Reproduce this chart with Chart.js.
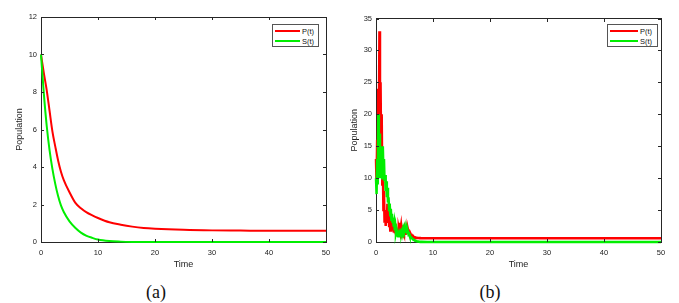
<!DOCTYPE html>
<html><head><meta charset="utf-8">
<script src="https://cdn.jsdelivr.net/npm/chart.js@4.4.1/dist/chart.umd.min.js"></script>
<style>
html,body{margin:0;padding:0;background:#fff;width:679px;height:303px;overflow:hidden;}
.wrap{position:absolute;top:0;}
canvas{display:block;}
.legend{position:absolute;background:#fff;border:1px solid #555;font:7.5px "Liberation Sans",Arial,sans-serif;color:#111;box-sizing:border-box;padding:1px 2px;}
.row{display:flex;align-items:center;height:10px;}
.sw{width:25px;height:2px;margin-right:2px;}
.cap{position:absolute;font:18px "Liberation Serif","Times New Roman",serif;color:#111;transform:translate(-50%,-50%);white-space:nowrap;}
</style></head><body>
<div class="wrap" style="left:0;width:340px;height:280px;"><canvas id="ca" width="340" height="280"></canvas></div>
<div class="wrap" style="left:340px;width:339px;height:280px;"><canvas id="cb" width="339" height="280"></canvas></div>
<div class="legend" style="left:272px;top:24px;width:47px;height:23px;">
  <div class="row"><div class="sw" style="background:#ff0000"></div><span>P(t)</span></div>
  <div class="row"><div class="sw" style="background:#00ee00"></div><span>S(t)</span></div>
</div>
<div class="legend" style="left:607px;top:24px;width:51px;height:23px;">
  <div class="row"><div class="sw" style="background:#ff0000;width:28px"></div><span>P(t)</span></div>
  <div class="row"><div class="sw" style="background:#00ee00;width:28px"></div><span>S(t)</span></div>
</div>
<div class="cap" style="left:156px;top:292px;">(a)</div>
<div class="cap" style="left:490px;top:292px;">(b)</div>
<script>
// ---- Panel (a): deterministic ----
const timeA = [0,0.5,1,1.5,2,2.5,3,3.5,4,5,6,7,8,9,10,12,14,16,18,20,25,30,35,40,45,50];
const pA    = [10,9.0,8.1,7.0,5.9,5.1,4.35,3.75,3.3,2.65,2.1,1.8,1.58,1.42,1.28,1.05,0.92,0.82,0.75,0.71,0.65,0.62,0.61,0.6,0.6,0.6];
const sA    = [10,7.9,6.2,4.9,3.9,3.1,2.45,1.95,1.6,1.1,0.76,0.5,0.33,0.22,0.13,0.05,0.02,0.005,0,0,0,0,0,0,0,0];
const xTicksA = [0,10,20,30,40,50];
const yTicksA = [0,2,4,6,8,10,12];

// ---- Panel (b): stochastic ----
const timeB = [0,0.1,0.2,0.3,0.4,0.5,0.6,0.7,0.8,0.9,1.0,1.1,1.2,1.3,1.4,1.5,1.6,1.7,1.8,1.9,
  2.0,2.1,2.2,2.3,2.4,2.5,2.6,2.7,2.8,2.9,3.0,3.1,3.2,3.3,3.4,3.5,3.6,3.7,3.8,3.9,
  4.0,4.1,4.2,4.3,4.4,4.5,4.6,4.7,4.8,4.9,5.0,5.1,5.2,5.3,5.4,5.5,5.6,5.7,5.8,5.9,
  6.0,6.1,6.2,6.3,6.4,6.5,6.6,6.7,6.8,6.9,7.0,7.1,7.2,7.3,7.4,7.5,7.6,7.7,7.8,7.9,
  8.0,9,10,20,30,40,50];
const pB = [13,9,16,12,24,18,33,22,25,14,20,9,12,5,8,3,5,2.5,4.5,3,
  6,3.5,5,2.5,4,1.8,3,2,3.5,1.8,2.6,1.5,2.2,1.4,2.0,1.2,1.8,1.3,2.0,1.5,
  2.2,1.8,3.0,2.0,2.6,1.6,1.9,1.4,1.6,1.3,1.5,1.3,1.7,1.5,1.9,1.6,2.0,1.6,1.5,1.3,
  1.1,1.2,1.0,0.9,0.95,0.8,0.85,0.75,0.7,0.72,0.68,0.66,0.65,0.64,0.63,0.62,0.62,0.61,0.61,0.6,
  0.6,0.6,0.6,0.6,0.6,0.6,0.6];
const sB = [10,7.5,13,9,20,12,17,10,15,11,14.5,10,15,11,13,9.5,10.5,8,9.5,7,
  8.5,6.2,7,5,6,4.2,5.2,3.5,4.4,3,3.8,2.4,3.0,1.8,2.4,1.4,1.8,1.0,1.4,0.9,
  1.2,1.0,1.4,1.2,1.6,1.4,1.8,1.6,2.2,1.9,2.3,1.8,2.1,1.6,1.8,1.4,1.6,1.2,1.3,1.0,
  0.9,0.8,0.7,0.6,0.5,0.45,0.38,0.32,0.27,0.22,0.18,0.15,0.12,0.1,0.08,0.06,0.05,0.04,0.03,0.02,
  0.02,0.01,0,0,0,0,0];
const xTicksB = [0,10,20,30,40,50];
const yTicksB = [0,5,10,15,20,25,30,35];

const FONT = '"Liberation Sans", Arial, sans-serif';
const AX = '#262626';

// MATLAB-style inward tick marks on all four sides, placed by the chart's scales
const tickPlugin = {
  id: 'inwardTicks',
  afterDraw(chart) {
    const ctx = chart.ctx;
    const ca = chart.chartArea;
    const xs = chart.scales.x, ys = chart.scales.y;
    const L = Math.round(ca.left), R = Math.round(ca.right);
    const T = Math.round(ca.top), B = Math.round(ca.bottom);
    const tl = 3;
    ctx.save();
    ctx.fillStyle = AX;
    xs.ticks.forEach(t => {
      const px = Math.round(xs.getPixelForValue(t.value));
      ctx.fillRect(px, B - tl, 1, tl);
      ctx.fillRect(px, T, 1, tl);
    });
    ys.ticks.forEach(t => {
      const py = Math.round(ys.getPixelForValue(t.value));
      ctx.fillRect(L, py, tl, 1);
      ctx.fillRect(R - tl, py, tl, 1);
    });
    ctx.restore();
  }
};

function pts(tt, vv) { return tt.map((t, i) => ({x: t, y: vv[i]})); }

function makeChart(id, cfg) {
  const border = {display: true, color: AX, width: 1};
  return new Chart(document.getElementById(id), {
    type: 'scatter',
    data: {
      datasets: [
        {label: 'S(t)', data: pts(cfg.t, cfg.s), borderColor: '#00ee00', showLine: true, pointRadius: 0, borderWidth: cfg.lw, tension: cfg.tension, cubicInterpolationMode: cfg.mode, order: 0, clip: 2},
        {label: 'P(t)', data: pts(cfg.t, cfg.p), borderColor: '#ff0000', showLine: true, pointRadius: 0, borderWidth: cfg.lw, tension: cfg.tension, cubicInterpolationMode: cfg.mode, order: 1, clip: 2}
      ]
    },
    options: {
      responsive: false,
      animation: false,
      events: [],
      layout: {padding: {left: 0, top: cfg.top, right: cfg.right, bottom: 0}},
      plugins: {legend: {display: false}, tooltip: {enabled: false}},
      scales: {
        x: {
          type: 'linear', min: 0, max: 50,
          afterBuildTicks: s => { s.ticks = cfg.xt.map(v => ({value: v})); },
          afterFit: s => { s.height = 280 - 242; },
          grid: {display: false, drawTicks: false, tickLength: 0}, border: border,
          ticks: {color: '#222', font: {family: FONT, size: 7.5}, padding: 6, maxRotation: 0},
          title: {display: true, text: 'Time', color: '#222', font: {family: FONT, size: 9}, padding: {top: 0, bottom: 9.6}}
        },
        y: {
          type: 'linear', min: 0, max: cfg.ymax,
          afterBuildTicks: s => { s.ticks = cfg.yt.map(v => ({value: v})); },
          afterFit: s => { s.width = cfg.left; },
          grid: {display: false, drawTicks: false, tickLength: 0}, border: border,
          ticks: {color: '#222', font: {family: FONT, size: 7.5}, padding: 4},
          title: {display: true, text: 'Population', color: '#222', font: {family: FONT, size: 9}, padding: {top: cfg.ytp, bottom: 0}}
        },
        xTop: {
          type: 'linear', position: 'top', min: 0, max: 50,
          afterFit: s => { s.height = 0; },
          grid: {display: false, drawTicks: false, tickLength: 0}, border: border,
          ticks: {display: false}
        },
        yRight: {
          type: 'linear', position: 'right', min: 0, max: cfg.ymax,
          afterFit: s => { s.width = 0; },
          grid: {display: false, drawTicks: false, tickLength: 0}, border: border,
          ticks: {display: false}
        }
      }
    },
    plugins: [tickPlugin]
  });
}

makeChart('ca', {t: timeA, p: pA, s: sA, xt: xTicksA, yt: yTicksA, ymax: 12, top: 17, right: 14, left: 41, ytp: 14.6, tension: 0.4, mode: 'monotone', lw: 2});
makeChart('cb', {t: timeB, p: pB, s: sB, xt: xTicksB, yt: yTicksB, ymax: 35, top: 18.5, right: 18, left: 36, ytp: 9.6, tension: 0, mode: 'default', lw: 2.5});
</script>
</body></html>
